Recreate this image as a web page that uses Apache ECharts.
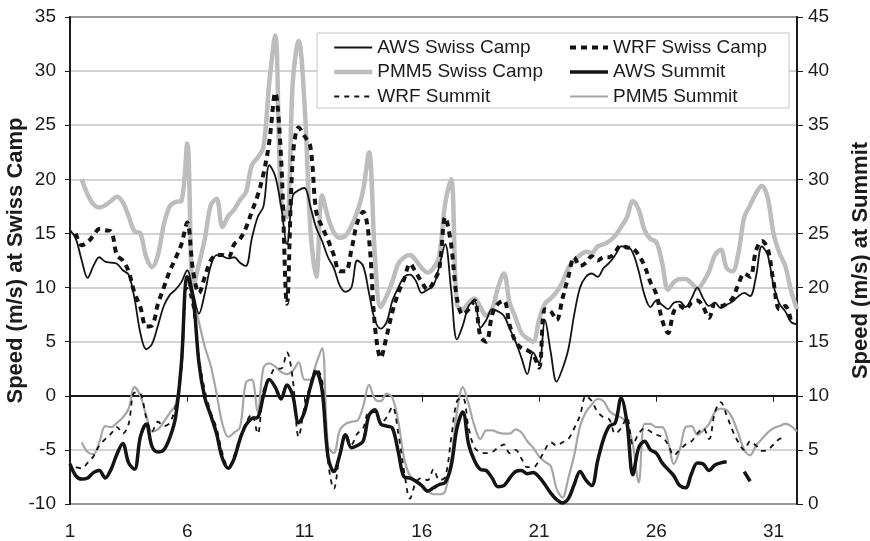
<!DOCTYPE html>
<html>
<head>
<meta charset="utf-8">
<script src="https://cdn.jsdelivr.net/npm/echarts@6/dist/echarts.min.js"></script>
<style>
  html, body { margin: 0; padding: 0; background: #fff; }
  #chart { width: 870px; height: 541px; }
</style>
</head>
<body>
<div id="chart"></div>
<script>
// Wind speed, sampled every 6 hours (day of month, 1 .. 32)
const dayTicks = [1, 6, 11, 16, 21, 26, 31];

// Swiss Camp (left axis), m/s
const awsSwiss = [
  15.3,14.5,12.5,10.9, 12.0,12.8,12.4,12.3, 12.2,11.6,11.2,9.0, 5.8,4.3,4.8,6.5,
  8.3,9.3,9.8,10.5, 11.6,9.5,7.6,9.5, 12.0,13.0,12.9,12.7, 12.8,12.3,12.0,14.5,
  16.5,17.5,21.3,20.3, 17.5,14.0,18.5,19.0, 19.2,17.5,15.5,14.3, 12.8,11.8,10.2,9.6,
  10.0,12.5,12.0,9.5, 7.0,6.2,6.8,8.8, 10.0,11.0,11.2,10.6, 9.5,9.8,10.2,12.0,
  14.0,9.8,5.2,6.5, 8.3,8.8,6.3,7.0, 8.0,7.8,7.4,6.2, 5.0,3.5,2.0,4.0,
  3.0,7.0,4.0,1.3, 2.5,4.3,7.5,10.0, 11.0,11.3,11.0,11.8, 12.3,13.0,13.8,13.8,
  13.2,11.5,9.3,8.2, 8.8,8.4,8.0,8.6, 8.7,8.2,9.0,10.0, 9.0,8.3,8.6,8.1,
  8.4,8.7,9.2,9.5, 9.2,11.0,13.8,13.0, 10.2,8.5,7.8,6.8, 6.6
];
const wrfSwiss = [
  null,15.0,13.9,14.2, 14.8,15.4,15.3,15.2, 13.0,12.5,11.5,9.5, 8.2,6.4,6.5,8.5,
  10.0,11.5,12.7,14.0, 16.0,11.5,9.5,11.0, 12.5,13.0,13.0,12.8, 14.0,14.5,15.5,17.0,
  18.5,20.5,23.5,28.0, 22.0,8.5,22.0,24.8, 24.0,23.0,17.0,15.6, 14.4,13.0,11.5,11.5,
  13.5,16.0,17.0,14.5, 6.5,3.5,5.5,7.8, 9.5,10.8,12.2,11.4, 10.5,9.8,10.5,11.8,
  16.5,14.0,9.0,7.5, 8.0,8.8,5.5,5.0, 7.5,8.5,8.8,6.5, 5.0,4.4,4.2,3.8,
  2.6,8.0,7.8,7.0, 9.0,11.0,12.8,12.0, 12.3,12.9,12.5,12.8, 12.8,13.3,13.9,13.7,
  13.6,13.0,12.0,10.5, 9.4,7.0,5.8,7.8, 8.3,8.0,8.6,8.8, 8.2,7.2,8.5,8.3,
  8.5,9.0,10.3,11.3, 11.0,13.4,14.3,13.6, 10.5,8.0,8.3,6.8, null
];
const pmmSwiss = [
  null,null,20.0,18.6, 17.7,17.4,17.6,18.0, 18.4,17.9,16.6,15.2, 15.0,12.8,11.9,13.0,
  15.8,17.5,17.9,18.0, 23.3,10.0,12.2,14.5, 17.6,18.2,15.6,16.6, 17.2,18.1,18.8,21.3,
  22.0,23.0,29.0,33.3, 18.0,16.5,29.0,32.8, 27.0,15.5,11.0,18.5, 16.5,15.1,14.6,14.8,
  15.7,17.0,19.0,22.5, 13.0,8.2,9.2,10.6, 12.2,12.8,13.0,12.5, 11.8,11.4,11.8,13.0,
  17.8,20.0,8.4,8.0, 8.6,9.0,8.2,7.4, 8.0,10.0,11.3,8.6, 7.2,5.8,5.3,5.0,
  7.0,8.5,9.0,9.6, 10.5,11.8,12.5,13.0, 13.3,13.2,13.8,14.0, 14.3,14.8,15.6,16.5,
  18.0,17.2,15.3,14.5, 14.2,12.3,9.8,10.5, 10.8,10.8,10.4,9.9, 10.5,11.5,13.0,13.5,
  11.8,11.5,13.2,16.5, 17.6,18.7,19.4,18.3, 15.0,13.2,12.0,9.7, 8.0
];

// Summit (right axis), m/s
const awsSummit = [
  3.7,2.6,2.3,2.4, 2.9,3.1,2.4,3.2, 4.6,5.6,3.8,3.2, 6.2,7.4,5.3,4.8,
  5.0,6.1,8.0,13.0, 21.0,19.0,13.0,9.8, 8.2,6.5,4.2,3.3, 4.2,6.0,7.3,7.9,
  8.0,10.0,11.5,10.8, 9.7,11.0,10.0,7.5, 8.5,10.8,12.2,10.5, 4.4,3.0,4.5,6.4,
  5.2,5.4,5.8,8.2, 8.7,7.4,7.2,7.0, 4.8,2.5,2.4,2.1, 1.7,1.2,1.5,1.8,
  2.0,3.5,7.0,8.5, 5.5,4.0,3.2,3.1, 2.4,1.6,1.7,2.4, 3.0,3.1,2.8,2.9,
  2.5,1.8,1.0,0.4, 0.1,0.5,1.8,3.0, 2.2,1.7,4.0,6.0, 7.2,7.5,9.8,7.5,
  2.7,5.2,5.8,5.0, 4.7,3.8,3.2,2.6, 1.7,1.5,2.8,3.8, 3.7,3.1,3.6,3.8,
  3.9,null,null,3.0, 2.1,null,null,null, null,null,null,null, null
];
const wrfSummit = [
  null,3.4,3.3,3.8, 4.4,5.4,6.0,6.5, 7.1,6.5,7.4,10.3, 10.2,8.0,6.7,7.6,
  7.2,7.5,9.0,12.5, 20.0,18.0,13.5,10.5, 8.5,7.0,4.7,3.4, 4.5,6.2,7.5,8.3,
  6.5,10.5,11.5,12.5, 12.5,14.0,11.5,6.2, 9.0,11.0,12.5,11.5, 4.0,1.4,4.5,6.5,
  5.5,6.5,7.0,8.5, 8.5,7.5,8.0,9.0, 6.5,3.0,0.5,2.0, 2.4,2.2,3.2,2.2,
  2.5,6.0,9.5,9.8, 7.0,5.2,4.8,4.7, 4.8,5.2,5.5,4.7, 5.0,4.2,3.4,3.4,
  4.0,5.0,5.7,5.4, 5.7,6.0,7.0,8.2, 10.0,9.5,8.5,8.0, 7.8,6.5,7.0,8.0,
  5.5,6.5,7.0,6.7, 6.4,6.2,5.5,4.5, 5.0,5.5,5.8,6.5, 7.0,6.0,8.5,9.4,
  8.2,6.8,5.7,5.0, 5.8,5.4,4.9,5.0, 5.5,6.0,6.1,null, null
];
const pmmSummit = [
  null,null,5.7,4.8, 4.6,5.7,7.2,7.1, 7.5,8.0,8.8,10.8, 10.0,8.2,6.7,6.9,
  7.6,8.4,9.2,12.5, 20.5,19.0,16.8,14.5, 12.8,10.2,7.4,6.2, 6.6,7.1,11.2,11.5,
  8.5,12.6,13.0,12.7, 12.2,12.0,12.3,13.1, 11.5,11.5,13.0,14.4, 5.4,4.7,6.8,7.4,
  7.6,7.7,9.0,11.0, 9.7,9.5,10.2,9.8, 7.6,4.2,2.6,2.2, 1.7,1.2,0.9,0.9,
  1.2,4.0,8.5,10.8, 9.2,7.2,6.0,6.8, 6.8,6.6,6.5,6.5, 6.9,6.6,5.8,5.2,
  4.4,3.9,3.5,1.4, 0.6,2.4,4.5,7.2, 8.5,9.2,9.7,9.5, 8.6,8.2,8.0,7.5,
  5.5,2.0,7.4,7.4, 7.1,7.1,5.8,3.7, 5.0,7.1,7.2,6.4, 6.8,7.4,8.5,8.8,
  8.7,7.9,6.5,5.0, 4.5,5.4,6.0,6.6, 7.0,7.2,7.4,7.2, 6.7
];

// sample times: every quarter day from day 1
const days = awsSwiss.map((_, i) => 1 + i * 0.25);
const pairs = vals => vals.map((v, i) => [days[i], v == null ? '-' : v]);

const FONT = '"Liberation Sans", Arial, Helvetica, sans-serif';
const INK = '#1c1c1c';

function lineSeries(name, vals, yIndex, color, width, dash) {
  return {
    name, type: 'line', yAxisIndex: yIndex,
    data: pairs(vals),
    showSymbol: false, symbol: 'none',
    smooth: 0.35, connectNulls: false,
    lineStyle: { color, width, type: dash || 'solid', cap: 'butt', join: 'round' },
    itemStyle: { color },
    emphasis: { disabled: true },
    animation: false
  };
}

const chart = echarts.init(document.getElementById('chart'), null, { renderer: 'canvas' });

const legendCommon = {
  orient: 'vertical',
  top: 37,
  padding: 0,
  itemWidth: 38,
  itemHeight: 14,
  itemGap: 3.5,
  selectedMode: false,
  textStyle: { fontFamily: FONT, fontSize: 19, color: INK, lineHeight: 21 },
  itemStyle: { opacity: 0 },
  lineStyle: { width: 'inherit' }
};

chart.setOption({
  backgroundColor: '#fff',
  animation: false,
  grid: {
    left: 70, right: 73, top: 17, bottom: 37,
    outerBoundsMode: 'none', containLabel: false,
    show: true, borderColor: INK, borderWidth: 2, backgroundColor: '#fff'
  },
  graphic: [{
    type: 'rect', z: 3,
    shape: { x: 317, y: 33, width: 472, height: 75 },
    style: { fill: '#fff', stroke: '#c6c6c6', lineWidth: 1 }
  }],
  legend: [
    Object.assign({ left: 332, data: ['AWS Swiss Camp', 'PMM5 Swiss Camp', 'WRF Summit'] }, legendCommon),
    Object.assign({ left: 568, data: ['WRF Swiss Camp', 'AWS Summit', 'PMM5 Summit'] }, legendCommon)
  ],
  xAxis: {
    type: 'value', min: 1, max: 32,
    axisLine: { lineStyle: { color: INK, width: 2 } },
    axisTick: { show: true, customValues: dayTicks, length: 6, lineStyle: { color: INK, width: 1 } },
    axisLabel: { customValues: dayTicks, margin: 18, fontFamily: FONT, fontSize: 19, color: INK },
    splitLine: { show: false }
  },
  yAxis: [
    {
      type: 'value', min: -10, max: 35, interval: 5, position: 'left',
      name: 'Speed (m/s) at Swiss Camp', nameLocation: 'middle', nameRotate: 90, nameGap: 43,
      nameMoveOverlap: false,
      nameTextStyle: { fontFamily: FONT, fontSize: 22, fontWeight: 'bold', color: INK },
      axisLine: { show: true, lineStyle: { color: INK, width: 2 } },
      axisTick: { show: true, length: 5, lineStyle: { color: INK } },
      axisLabel: { margin: 14, fontFamily: FONT, fontSize: 19, color: INK },
      splitLine: { show: true, lineStyle: { color: '#c4c4c4', width: 1.5 } }
    },
    {
      type: 'value', min: 0, max: 45, interval: 5, position: 'right',
      name: 'Speed (m/s) at Summit', nameLocation: 'middle', nameRotate: 90, nameGap: 53,
      nameMoveOverlap: false,
      nameTextStyle: { fontFamily: FONT, fontSize: 22, fontWeight: 'bold', color: INK },
      axisLine: { show: true, lineStyle: { color: INK, width: 2 } },
      axisTick: { show: true, length: 6, lineStyle: { color: INK } },
      axisLabel: { margin: 11, fontFamily: FONT, fontSize: 19, color: INK },
      splitLine: { show: false }
    }
  ],
  series: [
    lineSeries('PMM5 Swiss Camp', pmmSwiss, 0, '#bdbdbd', 4.5),
    lineSeries('PMM5 Summit', pmmSummit, 1, '#a6a6a6', 2.2),
    lineSeries('AWS Swiss Camp', awsSwiss, 0, '#141414', 1.8),
    lineSeries('WRF Swiss Camp', wrfSwiss, 0, '#141414', 4, [6, 5]),
    lineSeries('AWS Summit', awsSummit, 1, '#141414', 3.5),
    lineSeries('WRF Summit', wrfSummit, 1, '#141414', 1.8, [5, 5])
  ]
});
</script>
</body>
</html>
